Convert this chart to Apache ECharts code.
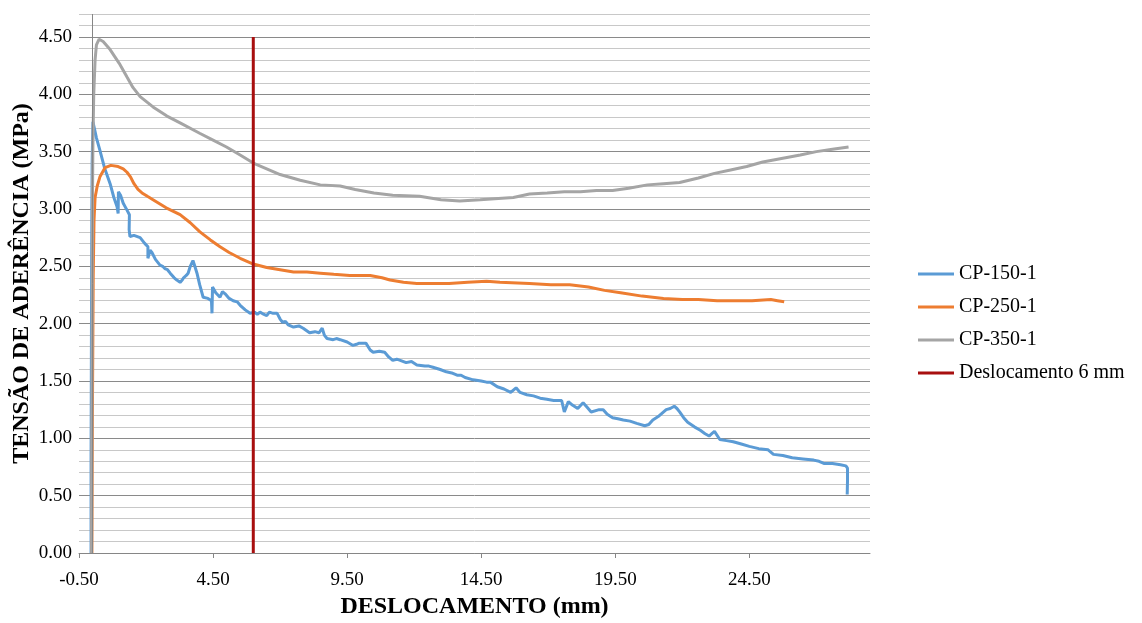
<!DOCTYPE html>
<html>
<head>
<meta charset="utf-8">
<script src="https://cdn.jsdelivr.net/npm/echarts@6.0.0/dist/echarts.min.js"></script>
<style>
html,body{margin:0;padding:0;background:#fff;}
#chart{width:1142px;height:623px;}
</style>
</head>
<body>
<div id="chart"></div>
<script>
// ---- data ----
const seriesNames = ['CP-150-1', 'CP-250-1', 'CP-350-1', 'Deslocamento 6 mm'];

const cp150 = [[-0.05,0.00],[-0.05,0.8],[-0.04,1.6],[-0.03,2.4],[-0.02,3.0],[-0.01,3.4],[0.02,3.76],
[0.15,3.62],[0.28,3.51],[0.45,3.36],[0.66,3.22],[0.80,3.10],[0.92,3.02],[0.96,2.96],[0.97,3.15],[1.05,3.12],[1.15,3.05],[1.29,2.99],[1.38,2.95],[1.37,2.82],[1.40,2.76],[1.55,2.77],[1.78,2.75],[1.95,2.70],[2.07,2.67],[2.07,2.57],[2.15,2.64],[2.22,2.62],[2.35,2.56],[2.52,2.51],[2.62,2.50],[2.70,2.48],[2.80,2.47],[2.90,2.44],[3.05,2.40],[3.15,2.38],[3.27,2.36],[3.35,2.38],[3.40,2.40],[3.50,2.42],[3.57,2.44],[3.65,2.50],[3.75,2.55],[3.82,2.50],[3.90,2.44],[4.00,2.34],[4.13,2.23],[4.31,2.22],[4.44,2.20],[4.46,2.09],[4.48,2.32],[4.60,2.27],[4.76,2.23],[4.85,2.28],[4.95,2.26],[5.10,2.22],[5.25,2.20],[5.40,2.19],[5.51,2.16],[5.70,2.12],[5.88,2.09],[6.05,2.10],[6.15,2.08],[6.25,2.10],[6.40,2.08],[6.50,2.07],[6.60,2.10],[6.74,2.09],[6.89,2.09],[7.00,2.04],[7.10,2.01],[7.20,2.02],[7.30,1.99],[7.50,1.97],[7.70,1.98],[7.86,1.96],[8.10,1.92],[8.30,1.93],[8.45,1.92],[8.57,1.96],[8.65,1.90],[8.75,1.87],[8.98,1.86],[9.10,1.87],[9.24,1.86],[9.50,1.84],[9.72,1.81],[9.85,1.82],[9.95,1.83],[10.20,1.83],[10.36,1.77],[10.47,1.75],[10.70,1.76],[10.90,1.75],[11.05,1.71],[11.20,1.68],[11.35,1.69],[11.48,1.68],[11.70,1.66],[11.90,1.67],[12.10,1.64],[12.40,1.63],[12.55,1.63],[12.70,1.62],[12.97,1.60],[13.20,1.58],[13.40,1.57],[13.60,1.55],[13.75,1.55],[13.90,1.53],[14.20,1.51],[14.50,1.50],[14.70,1.49],[14.84,1.49],[15.10,1.45],[15.35,1.43],[15.60,1.40],[15.80,1.44],[15.95,1.40],[16.20,1.38],[16.45,1.37],[16.70,1.35],[16.95,1.34],[17.20,1.33],[17.50,1.33],[17.60,1.23],[17.75,1.32],[17.90,1.29],[18.10,1.26],[18.30,1.31],[18.45,1.27],[18.60,1.23],[18.90,1.25],[19.05,1.25],[19.20,1.21],[19.40,1.18],[19.60,1.17],[19.80,1.16],[20.05,1.15],[20.30,1.13],[20.60,1.11],[20.75,1.12],[20.90,1.16],[21.10,1.19],[21.25,1.22],[21.40,1.25],[21.55,1.26],[21.70,1.28],[21.80,1.26],[21.90,1.23],[22.05,1.18],[22.20,1.14],[22.45,1.10],[22.67,1.07],[22.85,1.04],[23.00,1.02],[23.10,1.04],[23.20,1.06],[23.40,0.99],[23.65,0.98],[23.90,0.97],[24.20,0.95],[24.50,0.93],[24.85,0.91],[25.20,0.90],[25.40,0.86],[25.75,0.85],[26.10,0.83],[26.50,0.82],[26.90,0.81],[27.10,0.80],[27.30,0.78],[27.60,0.78],[27.90,0.77],[28.10,0.76],[28.16,0.74],[28.16,0.62],[28.15,0.51]];

const cp250 = [[-0.02,0],[0.0,1.2],[0.03,2.4],[0.06,2.9],[0.10,3.10],[0.18,3.20],[0.28,3.28],[0.47,3.36],[0.69,3.38],[0.96,3.37],[1.15,3.35],[1.29,3.32],[1.42,3.28],[1.55,3.22],[1.70,3.17],[1.85,3.14],[2.05,3.11],[2.26,3.08],[2.75,3.01],[3.27,2.95],[3.65,2.88],[4.01,2.80],[4.40,2.73],[4.76,2.67],[5.10,2.62],[5.51,2.57],[6.00,2.52],[6.50,2.49],[7.00,2.47],[7.50,2.45],[8.00,2.45],[8.50,2.44],[9.00,2.43],[9.60,2.42],[10.36,2.42],[10.80,2.40],[11.10,2.38],[11.60,2.36],[12.10,2.35],[12.70,2.35],[13.30,2.35],[14.00,2.36],[14.70,2.37],[15.20,2.36],[16.30,2.35],[17.10,2.34],[17.80,2.34],[18.50,2.32],[19.10,2.29],[19.70,2.27],[20.50,2.24],[21.30,2.22],[22.00,2.21],[22.60,2.21],[23.30,2.20],[23.90,2.20],[24.60,2.20],[25.30,2.21],[25.55,2.20],[25.80,2.19]];

const cp350 = [[-0.03,0],[-0.02,1.0],[-0.01,2.0],[0.0,3.0],[0.02,3.6],[0.05,4.0],[0.10,4.30],[0.15,4.43],[0.25,4.48],[0.40,4.46],[0.66,4.39],[1.00,4.27],[1.29,4.15],[1.51,4.06],[1.78,3.98],[2.26,3.89],[2.78,3.81],[3.27,3.75],[4.00,3.66],[4.50,3.60],[5.00,3.54],[5.51,3.47],[6.00,3.40],[6.50,3.35],[7.00,3.30],[7.75,3.25],[8.50,3.21],[9.24,3.20],[9.80,3.17],[10.50,3.14],[11.20,3.12],[12.20,3.11],[13.00,3.08],[13.70,3.07],[14.46,3.08],[15.00,3.09],[15.70,3.10],[16.30,3.13],[16.96,3.14],[17.60,3.15],[18.20,3.15],[18.80,3.16],[19.40,3.16],[20.00,3.18],[20.70,3.21],[21.30,3.22],[21.90,3.23],[22.60,3.27],[23.20,3.31],[23.80,3.34],[24.40,3.37],[25.00,3.41],[25.70,3.44],[26.40,3.47],[27.00,3.50],[27.60,3.52],[28.20,3.54]];

const markerX = [6, 6];
const markerY = [0, 4.5];

const xTicks = [-0.5, 4.5, 9.5, 14.5, 19.5, 24.5];
const yLabelTicks = [0, 0.5, 1.0, 1.5, 2.0, 2.5, 3.0, 3.5, 4.0, 4.5];
const xRange = [-0.5, 29];
const yRange = [0, 4.7];
const yAxisCrossX = 0;

const xTitle = 'DESLOCAMENTO (mm)';
const yTitle = 'TENSÃO DE ADERÊNCIA (MPa)';

// ---- chart ----
const FONT = '"Liberation Serif", "Times New Roman", serif';
const chart = echarts.init(document.getElementById('chart'), null, {renderer: 'canvas'});

const colors = ['#5B9BD5', '#ED7D31', '#A5A5A5', '#A80F0F'];

function lineSeries(name, data, color, extra) {
  return Object.assign({
    name: name,
    type: 'line',
    data: data,
    showSymbol: false,
    symbol: 'none',
    smooth: false,
    lineStyle: {color: color, width: 3},
    itemStyle: {color: color},
    emphasis: {disabled: true},
    silent: true
  }, extra || {});
}

const option = {
  backgroundColor: '#ffffff',
  animation: false,
  grid: {left: 79, right: 272, top: 14, bottom: 70, containLabel: false, outerBoundsMode: 'none'},
  legend: {
    orient: 'vertical',
    left: 913,
    top: 259,
    itemWidth: 36,
    itemHeight: 3,
    itemGap: 13,
    icon: 'rect',
    selectedMode: false,
    data: seriesNames,
    textStyle: {fontFamily: FONT, fontSize: 20, color: '#000', lineHeight: 20}
  },
  xAxis: {
    type: 'value',
    min: xRange[0],
    max: xRange[1],
    interval: 5,
    name: xTitle,
    nameLocation: 'middle',
    nameGap: 42,
    nameMoveOverlap: false,
    nameTextStyle: {fontFamily: FONT, fontSize: 24, fontWeight: 'bold', color: '#000'},
    axisLine: {show: true, onZero: false, lineStyle: {color: '#868686', width: 1}},
    axisTick: {show: true, length: 5, customValues: xTicks, lineStyle: {color: '#868686'}},
    axisLabel: {
      customValues: xTicks,
      margin: 18,
      fontFamily: FONT, fontSize: 19, color: '#000',
      formatter: v => v.toFixed(2)
    },
    splitLine: {show: false}
  },
  yAxis: {
    type: 'value',
    min: yRange[0],
    max: yRange[1],
    interval: 0.1,
    name: yTitle,
    nameLocation: 'middle',
    nameGap: 45,
    nameMoveOverlap: false,
    nameTextStyle: {fontFamily: FONT, fontSize: 24, fontWeight: 'bold', color: '#000'},
    axisLine: {show: false},
    axisTick: {show: false},
    axisLabel: {
      customValues: yLabelTicks,
      margin: 7,
      fontFamily: FONT, fontSize: 19, color: '#000',
      formatter: v => v.toFixed(2)
    },
    splitLine: {
      show: true,
      lineStyle: {color: ['#8a8a8a', '#c8c8c8', '#c8c8c8', '#c8c8c8', '#c8c8c8'], width: 1}
    }
  },
  series: [
    lineSeries(seriesNames[0], cp150, colors[0], {
      markLine: {
        silent: true,
        symbol: 'none',
        label: {show: false},
        lineStyle: {color: '#868686', width: 1, type: 'solid'},
        emphasis: {disabled: true},
        data: [{xAxis: yAxisCrossX}]
      }
    }),
    lineSeries(seriesNames[1], cp250, colors[1]),
    lineSeries(seriesNames[2], cp350, colors[2]),
    lineSeries(seriesNames[3], markerX.map((x, i) => [x, markerY[i]]), colors[3])
  ]
};
chart.setOption(option);
</script>
</body>
</html>
